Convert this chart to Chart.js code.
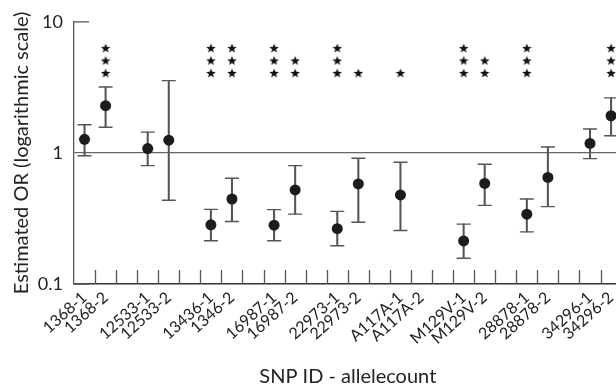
<!DOCTYPE html>
<html lang="en">
<head>
<meta charset="UTF-8">
<title>Estimated OR per SNP</title>
<style>
  html, body { margin: 0; padding: 0; background: #fff; overflow: hidden; }
  #chart { display: block; }
</style>
</head>
<body>
<canvas id="chart" width="630" height="389"></canvas>
<script src="https://cdn.jsdelivr.net/npm/chart.js"></script>
<script>
// empty label = spacer slot between SNP groups
const labels = ['1368-1','1368-2','','12533-1','12533-2','','13436-1','1346-2','','16987-1','16987-2','',
                '22973-1','22973-2','','A117A-1','A117A-2','','M129V-1','M129V-2','','28878-1','28878-2','',
                '34296-1','34296-2'];
const estOR = [1.27,2.29,null,1.08,1.25,null,0.283,0.445,null,0.281,0.522,null,
               0.264,0.58,null,0.478,null,null,0.213,0.585,null,0.341,0.65,null,1.18,1.92];
const lowerCI = [0.95,1.57,null,0.80,0.435,null,0.214,0.30,null,0.214,0.341,null,
                 0.196,0.296,null,0.256,null,null,0.157,0.398,null,0.25,0.389,null,0.904,1.35];
const upperCI = [1.64,3.18,null,1.44,3.56,null,0.371,0.64,null,0.369,0.80,null,
                 0.358,0.91,null,0.848,null,null,0.286,0.819,null,0.445,1.11,null,1.52,2.63];
const stars = [0,3,0,0,0,0,3,3,0,3,2,0,3,1,0,1,0,0,3,2,0,3,0,0,0,3];
const starRows = [4.07, 5.07, 6.31];
const yTicks = [0.1, 1, 10];

const FONT = 'Lato, "Open Sans", sans-serif';
const INK = '#222';
const AXIS = '#555';

// filled five point star for the significance marks
function makeStar(size) {
  const c = document.createElement('canvas');
  c.width = size; c.height = size;
  const g = c.getContext('2d');
  const cx = size / 2, cy = size / 2 + 0.5, ro = size / 2, ri = ro * 0.42;
  g.beginPath();
  for (let k = 0; k < 10; k++) {
    const r = k % 2 ? ri : ro;
    const a = -Math.PI / 2 + k * Math.PI / 5;
    g.lineTo(cx + r * Math.cos(a), cy + r * Math.sin(a));
  }
  g.closePath();
  g.fillStyle = '#111';
  g.fill();
  return c;
}
const starImg = makeStar(10);

// one dataset per row of stars (1, 2 or 3 stars above a SNP)
const starSets = starRows.map((v, j) => ({
  type: 'line',
  label: 'stars' + (j + 1),
  data: stars.map(n => n > j ? v : null),
  showLine: false,
  pointStyle: starImg,
  pointRadius: 5,
  order: 0
}));

// inward tick marks (ticks between slots on x, short ticks at 10 and 0.1 on y)
const innerTicks = {
  id: 'innerTicks',
  afterDatasetsDraw(chart) {
    const { ctx, scales: { x, y }, chartArea } = chart;
    ctx.save();
    ctx.strokeStyle = AXIS;
    ctx.lineWidth = 1.3;
    ctx.beginPath();
    for (let i = 0; i < labels.length - 1; i++) {
      const px = Math.round((x.getPixelForValue(i) + x.getPixelForValue(i + 1)) / 2) + 0.5;
      ctx.moveTo(px, chartArea.bottom);
      ctx.lineTo(px, chartArea.bottom - 14);
    }
    [10, 0.1].forEach(v => {
      const py = y.getPixelForValue(v);
      ctx.moveTo(chartArea.left, py);
      ctx.lineTo(chartArea.left + 15, py);
    });
    ctx.stroke();
    ctx.restore();
  }
};

new Chart(document.getElementById('chart'), {
  type: 'bar',
  data: {
    labels: labels,
    datasets: [
      ...starSets,
      {
        type: 'line',
        label: 'OR',
        data: estOR,
        showLine: false,
        pointRadius: 5.5,
        pointBackgroundColor: '#1c1c1c',
        pointBorderColor: '#1c1c1c',
        pointBorderWidth: 0,
        order: 1
      },
      {
        type: 'line',
        label: 'upper',
        data: upperCI,
        showLine: false,
        pointStyle: 'line',
        pointRadius: 7,
        pointBorderWidth: 1.4,
        pointBorderColor: AXIS,
        order: 2
      },
      {
        type: 'line',
        label: 'lower',
        data: lowerCI,
        showLine: false,
        pointStyle: 'line',
        pointRadius: 7,
        pointBorderWidth: 1.4,
        pointBorderColor: AXIS,
        order: 2
      },
      {
        label: 'CI',
        data: lowerCI.map((lo, i) => lo == null ? null : [lo, upperCI[i]]),
        backgroundColor: AXIS,
        barThickness: 1.4,
        order: 3
      }
    ]
  },
  options: {
    responsive: false,
    animation: false,
    events: [],
    layout: { padding: { top: 16, right: 0, bottom: 0, left: 0 } },
    plugins: { legend: { display: false }, tooltip: { enabled: false } },
    scales: {
      x: {
        offset: true,
        afterFit: s => { s.height = 105; },
        grid: { display: false, drawTicks: false },
        border: { color: '#333', width: 1.4 },
        ticks: {
          autoSkip: false,
          minRotation: 42,
          maxRotation: 42,
          padding: 4,
          color: INK,
          font: { family: FONT, size: 16 }
        },
        title: {
          display: true,
          text: 'SNP ID - allelecount',
          color: INK,
          font: { family: FONT, size: 20 },
          padding: { top: 0, bottom: 0 }
        }
      },
      y: {
        type: 'logarithmic',
        min: 0.1,
        max: 10,
        afterBuildTicks: s => { s.ticks = yTicks.map(v => ({ value: v })); },
        afterFit: s => { s.width = 74; },
        grid: {
          drawTicks: false,
          color: c => c.tick && c.tick.value === 1 ? '#666' : 'rgba(0,0,0,0)',
          lineWidth: 1.3
        },
        border: { color: AXIS, width: 1.3 },
        ticks: {
          padding: 11,
          color: INK,
          font: { family: FONT, size: 18 },
          callback: v => String(v)
        },
        title: {
          display: true,
          text: 'Estimated OR (logarithmic scale)',
          color: INK,
          font: { family: FONT, size: 20 },
          padding: { top: 10, bottom: 0 }
        }
      }
    }
  },
  plugins: [innerTicks]
});
</script>
</body>
</html>
